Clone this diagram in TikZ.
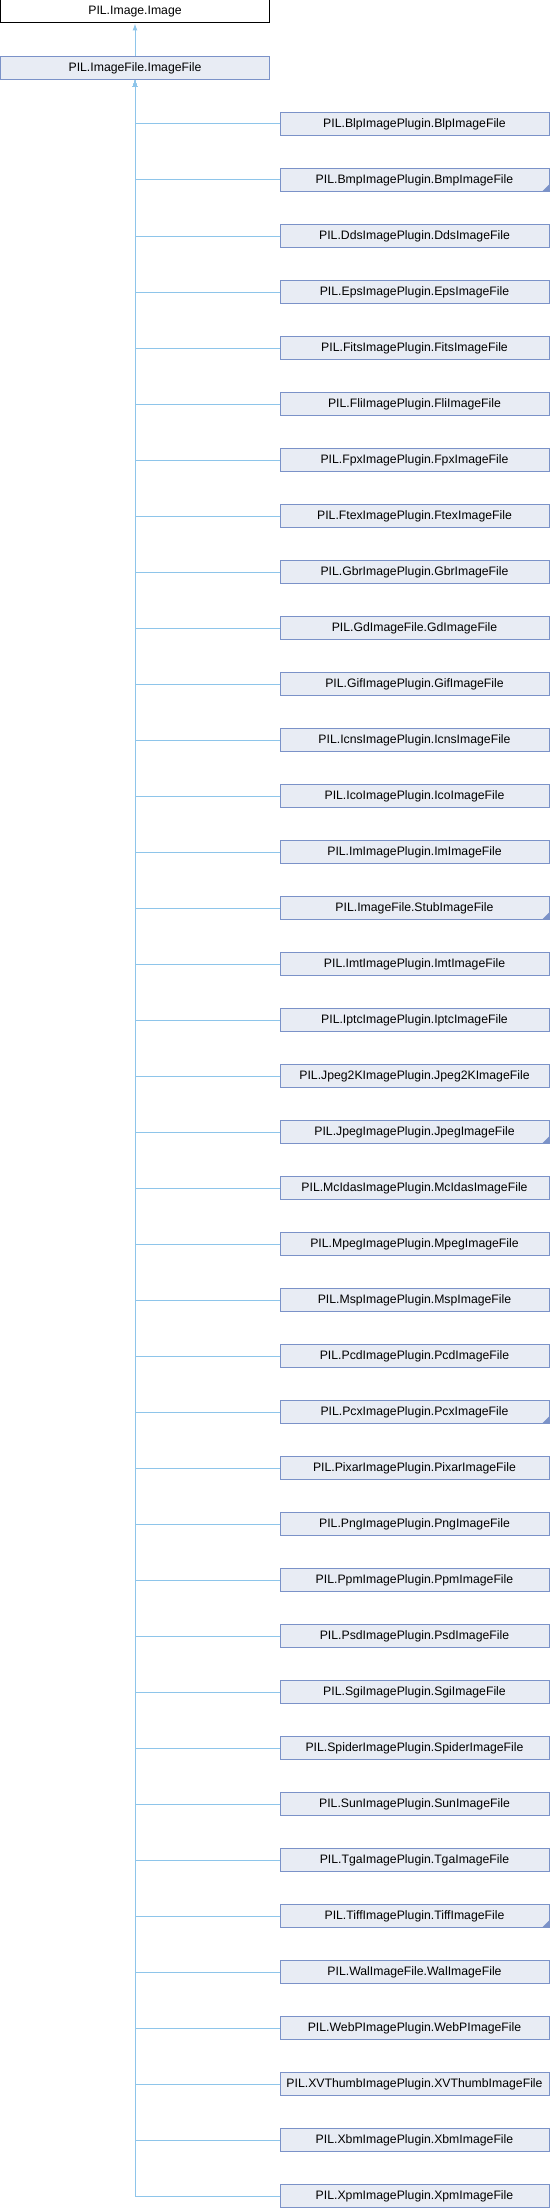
\documentclass[tikz,border=0pt]{standalone}
\usepackage{fontspec}
\setmainfont{Liberation Sans}
\usetikzlibrary{arrows.meta}
\definecolor{boxfill}{HTML}{E8ECF4}
\definecolor{boxline}{HTML}{7B92C8}
\definecolor{linkblue}{HTML}{8EC5EA}
\begin{document}
\begin{tikzpicture}[
  x=1bp, y=1bp,
  block/.style={rectangle, draw=boxline, fill=boxfill, line width=1bp, minimum width=269bp, minimum height=23bp, inner sep=0pt, font=\fontsize{12.3}{14}\selectfont},
  rootblock/.style={block, draw=black, fill=white},
  stub/.style={block, path picture={\fill[boxline] (path picture bounding box.south east) -- ++(-7bp,0) -- ++(7bp,7bp) -- cycle;}},
  inh/.style={draw=linkblue, line width=1bp, -{Latex[length=7bp,width=5bp]}},
  node distance=56bp
]
\useasboundingbox (0,0) rectangle (550,-2208);
\node[rootblock] (image) at (135,-11.5) {PIL.Image.Image};
\node[block] (imagefile) at (135,-68) {PIL.ImageFile.ImageFile};

\node[block] (blp) at (414.5,-124) {PIL.BlpImagePlugin.BlpImageFile};
\node[stub, below of=blp] (bmp) {PIL.BmpImagePlugin.BmpImageFile};
\node[block, below of=bmp] (dds) {PIL.DdsImagePlugin.DdsImageFile};
\node[block, below of=dds] (eps) {PIL.EpsImagePlugin.EpsImageFile};
\node[block, below of=eps] (fits) {PIL.FitsImagePlugin.FitsImageFile};
\node[block, below of=fits] (fli) {PIL.FliImagePlugin.FliImageFile};
\node[block, below of=fli] (fpx) {PIL.FpxImagePlugin.FpxImageFile};
\node[block, below of=fpx] (ftex) {PIL.FtexImagePlugin.FtexImageFile};
\node[block, below of=ftex] (gbr) {PIL.GbrImagePlugin.GbrImageFile};
\node[block, below of=gbr] (gd) {PIL.GdImageFile.GdImageFile};
\node[block, below of=gd] (gif) {PIL.GifImagePlugin.GifImageFile};
\node[block, below of=gif] (icns) {PIL.IcnsImagePlugin.IcnsImageFile};
\node[block, below of=icns] (ico) {PIL.IcoImagePlugin.IcoImageFile};
\node[block, below of=ico] (im) {PIL.ImImagePlugin.ImImageFile};
\node[stub, below of=im] (stubfile) {PIL.ImageFile.StubImageFile};
\node[block, below of=stubfile] (imt) {PIL.ImtImagePlugin.ImtImageFile};
\node[block, below of=imt] (iptc) {PIL.IptcImagePlugin.IptcImageFile};
\node[block, below of=iptc] (jpegtk) {PIL.Jpeg2KImagePlugin.Jpeg2KImageFile};
\node[stub, below of=jpegtk] (jpeg) {PIL.JpegImagePlugin.JpegImageFile};
\node[block, below of=jpeg] (mcidas) {PIL.McIdasImagePlugin.McIdasImageFile};
\node[block, below of=mcidas] (mpeg) {PIL.MpegImagePlugin.MpegImageFile};
\node[block, below of=mpeg] (msp) {PIL.MspImagePlugin.MspImageFile};
\node[block, below of=msp] (pcd) {PIL.PcdImagePlugin.PcdImageFile};
\node[stub, below of=pcd] (pcx) {PIL.PcxImagePlugin.PcxImageFile};
\node[block, below of=pcx] (pixar) {PIL.PixarImagePlugin.PixarImageFile};
\node[block, below of=pixar] (png) {PIL.PngImagePlugin.PngImageFile};
\node[block, below of=png] (ppm) {PIL.PpmImagePlugin.PpmImageFile};
\node[block, below of=ppm] (psd) {PIL.PsdImagePlugin.PsdImageFile};
\node[block, below of=psd] (sgi) {PIL.SgiImagePlugin.SgiImageFile};
\node[block, below of=sgi] (spider) {PIL.SpiderImagePlugin.SpiderImageFile};
\node[block, below of=spider] (sun) {PIL.SunImagePlugin.SunImageFile};
\node[block, below of=sun] (tga) {PIL.TgaImagePlugin.TgaImageFile};
\node[stub, below of=tga] (tiff) {PIL.TiffImagePlugin.TiffImageFile};
\node[block, below of=tiff] (wal) {PIL.WalImageFile.WalImageFile};
\node[block, below of=wal] (webp) {PIL.WebPImagePlugin.WebPImageFile};
\node[block, below of=webp] (xvthumb) {PIL.XVThumbImagePlugin.XVThumbImageFile};
\node[block, below of=xvthumb] (xbm) {PIL.XbmImagePlugin.XbmImageFile};
\node[block, below of=xbm] (xpm) {PIL.XpmImagePlugin.XpmImageFile};

\draw[inh] (imagefile) -- (image);
\foreach \child in {blp,bmp,dds,eps,fits,fli,fpx,ftex,gbr,gd,gif,icns,ico,im,stubfile,imt,iptc,jpegtk,jpeg,mcidas,mpeg,msp,pcd,pcx,pixar,png,ppm,psd,sgi,spider,sun,tga,tiff,wal,webp,xvthumb,xbm,xpm}
  \draw[inh] (\child) -| (imagefile);
\end{tikzpicture}
\end{document}
